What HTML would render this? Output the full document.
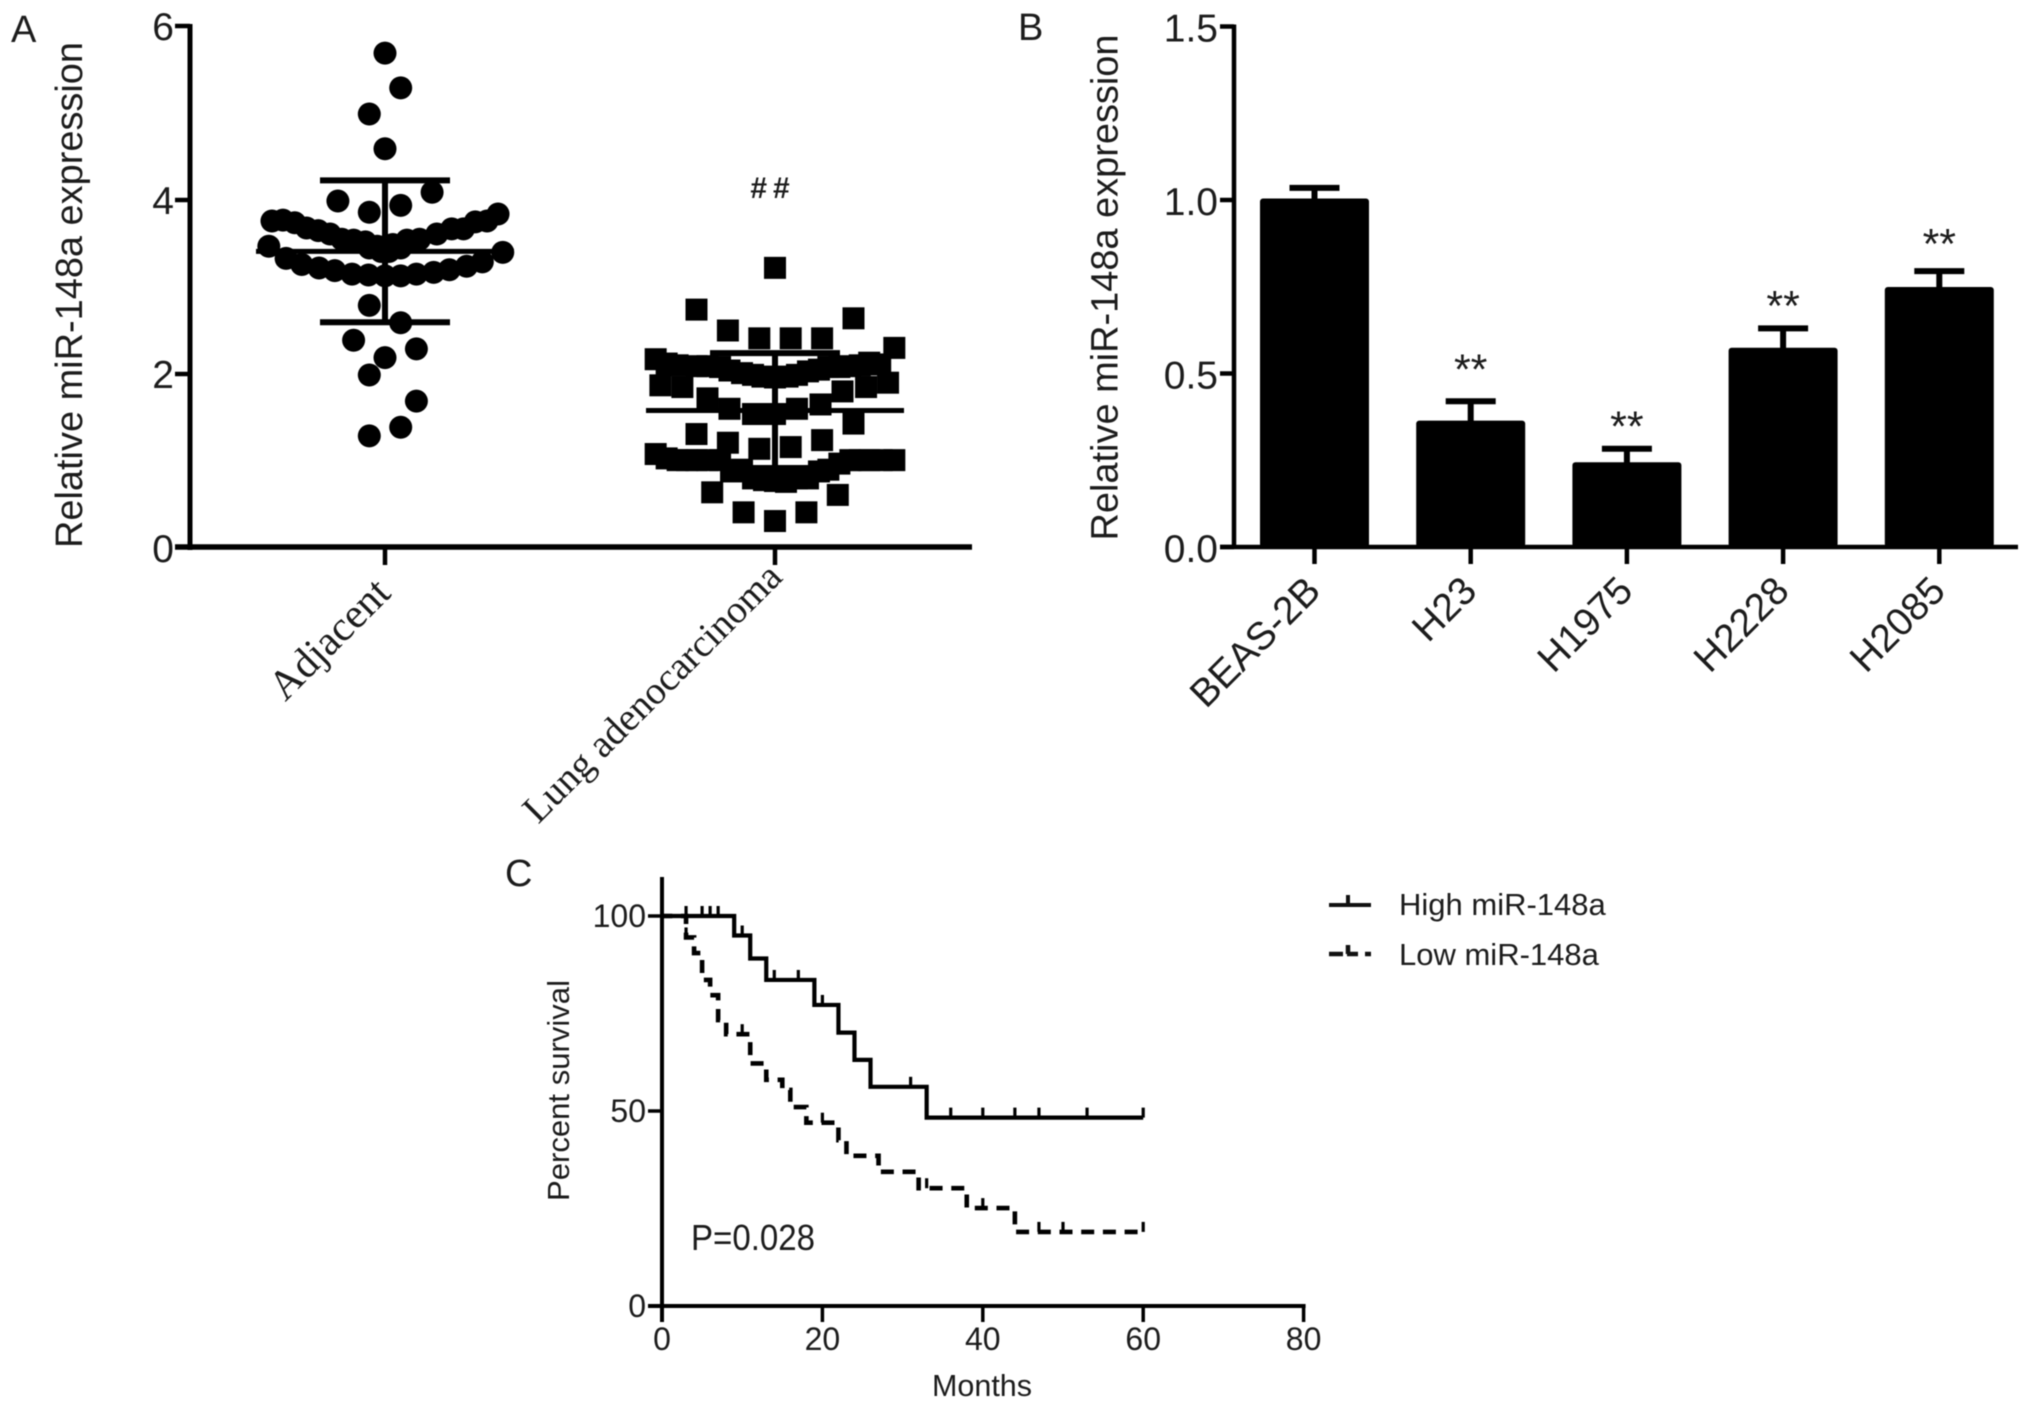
<!DOCTYPE html>
<html>
<head>
<meta charset="utf-8">
<title>miR-148a expression figure</title>
<style>
html,body{margin:0;padding:0;background:#fff;}
svg{display:block;filter:blur(0.6px);}
text{font-family:"Liberation Sans",Arial,sans-serif;fill:#1c1c1c;}
.serif{font-family:"Liberation Serif","Times New Roman",serif;}
</style>
</head>
<body>
<svg id="chart" xmlns="http://www.w3.org/2000/svg" width="2031" height="1409" viewBox="0 0 2031 1409">
  <rect width="2031" height="1409" fill="#fff"/>
  <text x="11" y="42" font-size="38">A</text>
  <text x="1018" y="40" font-size="38">B</text>
  <text x="505" y="886" font-size="38">C</text>
  <text transform="translate(82,548) rotate(-90)" font-size="38" textLength="506" lengthAdjust="spacingAndGlyphs">Relative miR-148a expression</text>
  <text transform="translate(1117.5,540.5) rotate(-90)" font-size="38" textLength="506" lengthAdjust="spacingAndGlyphs">Relative miR-148a expression</text>
  <text x="773" y="198" font-size="30" font-weight="bold" text-anchor="middle" letter-spacing="6">##</text>
  <text transform="translate(569,1201) rotate(-90)" font-size="30.5" textLength="221" lengthAdjust="spacingAndGlyphs">Percent survival</text>
  <text x="982" y="1396" font-size="30.5" text-anchor="middle">Months</text>
  <text x="691" y="1250" font-size="36" textLength="124" lengthAdjust="spacingAndGlyphs">P=0.028</text>
  <text x="1399" y="915" font-size="31">High miR-148a</text>
  <text x="1399" y="965" font-size="31">Low miR-148a</text>
  <path d="M1329 905H1371M1348 905V895" stroke="#111" stroke-width="4" fill="none"/>
  <path d="M1329 954H1343M1347 954H1358M1348 954V945M1365 954H1371" stroke="#111" stroke-width="4.5" fill="none"/>
</svg>
<script>
/* ---------- Panel A data ---------- */
const groupNamesA = ['Adjacent', 'Lung adenocarcinoma'];
const ticksA = [0, 2, 4, 6];
const adjacentSlots = [0, 1, -1, 0, 3, -3, 1, -1,
  -7.2, -6.5, -5.75, -5, -4.25, -3.5, -2.75, -2, -1.25, -0.5, 0.5, 1.4, 2.2, 3.3, 4.25, 5, 5.75, 6.5, 7.2,
  -1, -0.25, 0.25, 1,
  -7.4, 7.5, -6.3, -5.3, -4.2, -3.2, -2.1, -1.05, 0, 1, 2, 3.1, 4.1, 5.2, 6.2,
  -1, 1, -2, 2, 0, -1, 2, 1, -1];
const adjacentValues = [5.7, 5.3, 5.0, 4.6, 4.1, 4.0, 3.95, 3.87,
  3.77, 3.78, 3.75, 3.69, 3.66, 3.62, 3.56, 3.55, 3.53, 3.48, 3.5, 3.55, 3.56, 3.62, 3.68, 3.68, 3.76, 3.77, 3.85,
  3.46, 3.42, 3.42, 3.46,
  3.48, 3.41, 3.34, 3.27, 3.23, 3.2, 3.16, 3.15, 3.14, 3.14, 3.16, 3.18, 3.21, 3.25, 3.3,
  2.8, 2.6, 2.4, 2.3, 2.2, 2.0, 1.7, 1.4, 1.3];
const tumorSlots = [0, -5, 5, -3, -1, 1, 3, 7.6,
  -7.6, -6.2, -5, -3.5, -2.1, -0.8, 0, 0.8, 2.1, 3.4, 4.8, 6,
  -6.9, -4.3, -2.9, -1.4, 1.4, 2.8, 4.1, 5.4, 6.7,
  -7.3, -5.9, -4.3, -2.9, -1.4, 0, 1.4, 2.9, 4.3, 5.8, 7.2,
  5, -5, -3, 3, 1, -1,
  -7.6, -6.2, -5, -3.5, -2.1, -0.7, 0.7, 2.1, 3.4, 4.8, 6, 7.6,
  -6.9, -5.6, -4.3, -2.8, -1.4, 0, 1.4, 2.8, 4.1, 5.4, 6.8,
  -4, 4, -2, 2, 0];
const tumorValues = [3.22, 2.74, 2.64, 2.5, 2.41, 2.41, 2.41, 2.3,
  2.17, 2.1, 2.09, 2.08, 2.01, 1.97, 1.96, 1.97, 2.03, 2.08, 2.09, 2.13,
  2.12, 2.09, 2.04, 1.99, 1.99, 2.05, 2.08, 2.1, 2.11,
  1.87, 1.85, 1.72, 1.6, 1.54, 1.54, 1.6, 1.65, 1.8, 1.85, 1.9,
  1.43, 1.31, 1.21, 1.24, 1.16, 1.14,
  1.08, 1.01, 1.01, 1.01, 0.9, 0.78, 0.76, 0.8, 0.9, 1.01, 1.01, 1.01,
  1.03, 1.01, 1.01, 0.88, 0.8, 0.77, 0.8, 0.88, 0.97, 1.01, 1.01,
  0.64, 0.61, 0.41, 0.41, 0.31];
const meansA = [3.41, 1.58];
const sdsA = [0.815, 0.66];

/* ---------- Panel B data ---------- */
const cellLines = ['BEAS-2B', 'H23', 'H1975', 'H2228', 'H2085'];
const expressionB = [1.0, 0.36, 0.24, 0.57, 0.745];
const errorsB = [0.035, 0.06, 0.043, 0.06, 0.05];
const ticksB = ['0.0', '0.5', '1.0', '1.5'];
const starLabels = ['', '**', '**', '**', '**'];
const starLevels = [0, 0.522, 0.358, 0.705, 0.884];

/* ---------- Panel C data ---------- */
const ticksCx = [0, 20, 40, 60, 80];
const ticksCy = [0, 50, 100];
const highTimes = [0, 9, 11, 13, 19, 22, 24, 26, 33];
const highSurvival = [100, 95, 89.1, 83.6, 77.2, 70.1, 63.1, 56.2, 48.3];
const highCensor = [3, 5, 6, 7, 10, 14, 17, 20, 31, 36, 40, 44, 47, 53, 60];
const lowTimes = [0, 3, 4, 5, 6, 7, 8, 11, 13, 15, 16, 18, 22, 23, 27, 32, 38, 44];
const lowSurvival = [100, 94.5, 90.5, 83.6, 79.7, 73.3, 69.7, 62.2, 58, 55.4, 51, 47, 42.5, 38.5, 34.4, 30.2, 25.1, 19];
const lowCensor = [3, 10, 20, 33, 40, 47, 50, 60];
const endTime = 60;

const NS = 'http://www.w3.org/2000/svg';
const chart = document.getElementById('chart');
function make(tag, attrs, text) {
  const el = document.createElementNS(NS, tag);
  for (const k in attrs) el.setAttribute(k, attrs[k]);
  if (text !== undefined) el.textContent = text;
  chart.appendChild(el);
  return el;
}
const INK = '#000';

/* axis functions */
const yA = v => 548 - 87 * v;
const xA = (g, slot) => 385 + 390 * g + 15.7 * slot;
const yB = v => 547 - 347 * v;
const xB = i => 1314.5 + 156.2 * i;
const yC = s => 1306 - 3.9 * s;
const xC = t => 662 + 8.02 * t;

/* ---------- Panel A ---------- */
adjacentValues.forEach((v, i) => {
  const dot = make('circle', {cx: xA(0, adjacentSlots[i]), cy: yA(v) + 1, r: 11.5, fill: INK});
  
  
});
tumorValues.forEach((v, i) => {
  const sq = make('rect', {x: xA(1, tumorSlots[i]) - 11, y: yA(v) - 11, width: 22, height: 22, fill: INK});
  
  
});
meansA.forEach((m, g) => {
  const cx = xA(g, 0);
  const top = yA(m + sdsA[g]);
  const bot = yA(m - sdsA[g]);
  const d = 'M' + (cx - 65) + ' ' + top + 'H' + (cx + 65) +
            'M' + (cx - 65) + ' ' + bot + 'H' + (cx + 65) +
            'M' + cx + ' ' + top + 'V' + bot;
  const err = make('path', {d: d, stroke: INK, 'stroke-width': 6, fill: 'none'});
  
  
  const mean = make('line', {x1: cx - 129, x2: cx + 129, y1: yA(m), y2: yA(m), stroke: INK, 'stroke-width': 5});
  
  
});
const axisAy = make('line', {x1: 190, x2: 190, y1: yA(6) - 2, y2: yA(0) + 2, stroke: INK, 'stroke-width': 5});


const axisAx = make('line', {x1: 175, x2: 972, y1: yA(0) - 1, y2: yA(0) - 1, stroke: INK, 'stroke-width': 5.5});


ticksA.forEach(t => {
  const tk = make('line', {x1: 175, x2: 190, y1: yA(t) - (t === 0 ? 1 : 0), y2: yA(t) - (t === 0 ? 1 : 0), stroke: INK, 'stroke-width': 4.5});
  
  
  const lb = make('text', {x: 174, y: yA(t) + 14, 'font-size': 39, 'text-anchor': 'end'}, String(t));
  
  
});
groupNamesA.forEach((name, g) => {
  const tk = make('line', {x1: xA(g, 0), x2: xA(g, 0), y1: 547, y2: 565, stroke: INK, 'stroke-width': 4.5});
  
  
  const lx = xA(g, 0) + (g === 0 ? 7.5 : 9);
  const ly = g === 0 ? 595 : 579;
  const lb = make('text', {transform: 'translate(' + lx + ',' + ly + ') rotate(-45)', 'font-size': g === 0 ? 42 : 39, 'text-anchor': 'end', class: 'serif'}, name);
  
  
});

/* ---------- Panel B ---------- */
expressionB.forEach((v, i) => {
  const err = make('path', {d: 'M' + xB(i) + ' ' + yB(v) + 'V' + yB(v + errorsB[i]) + 'M' + (xB(i) - 25) + ' ' + yB(v + errorsB[i]) + 'H' + (xB(i) + 25), stroke: INK, 'stroke-width': 6, fill: 'none'});
  
  
  const bar = make('rect', {x: xB(i) - 54.5, y: yB(v) - 1.5, width: 109, height: yB(0) - yB(v) + 1.5, rx: 3, fill: INK});
  
  
  if (starLabels[i]) {
    const st = make('text', {x: xB(i), y: yB(starLevels[i]) + 18, 'font-size': 43, 'text-anchor': 'middle'}, starLabels[i]);
    
    
  }
  const tk = make('line', {x1: xB(i), x2: xB(i), y1: 547, y2: 564, stroke: INK, 'stroke-width': 4.5});
  
  
  const lb = make('text', {transform: 'translate(' + (xB(i) + 8) + ',593) rotate(-45)', 'font-size': 39, 'text-anchor': 'end'}, cellLines[i]);
  
  
});
const axisBy = make('line', {x1: 1234, x2: 1234, y1: yB(1.5) - 2, y2: yB(0) + 2, stroke: INK, 'stroke-width': 4.5});


const axisBx = make('line', {x1: 1220, x2: 2018, y1: yB(0), y2: yB(0), stroke: INK, 'stroke-width': 4.5});


ticksB.forEach(t => {
  const tk = make('line', {x1: 1220, x2: 1234, y1: yB(+t), y2: yB(+t), stroke: INK, 'stroke-width': 4.5});
  
  
  const lb = make('text', {x: 1218, y: yB(+t) + 15, 'font-size': 39, 'text-anchor': 'end'}, t);
  
  
});

/* ---------- Panel C ---------- */
function stepPath(times, surv) {
  let d = 'M' + xC(times[0]) + ' ' + yC(surv[0]);
  for (let i = 1; i < times.length; i++) d += 'H' + xC(times[i]) + 'V' + yC(surv[i]);
  return d + 'H' + xC(endTime);
}
function survivalAt(times, surv, t) {
  let s = surv[0];
  times.forEach((tt, i) => { if (tt <= t) s = surv[i]; });
  return s;
}
const highCurve = make('path', {d: stepPath(highTimes, highSurvival), fill: 'none', stroke: INK, 'stroke-width': 4.2});


const lowCurve = make('path', {d: stepPath(lowTimes, lowSurvival), fill: 'none', stroke: INK, 'stroke-width': 4.6, 'stroke-dasharray': '13 8.7', 'stroke-dashoffset': -19});


highCensor.forEach(t => {
  const y = yC(survivalAt(highTimes, highSurvival, t));
  const m = make('line', {x1: xC(t), x2: xC(t), y1: y, y2: y - 10, stroke: INK, 'stroke-width': 3.2});
  
  
});
lowCensor.forEach(t => {
  const y = yC(survivalAt(lowTimes, lowSurvival, t));
  const m = make('line', {x1: xC(t), x2: xC(t), y1: y, y2: y - 10, stroke: INK, 'stroke-width': 3.2});
  
  
});
const axisCy = make('line', {x1: xC(0), x2: xC(0), y1: 877, y2: yC(0) + 16, stroke: INK, 'stroke-width': 4});


const axisCx = make('line', {x1: 648, x2: xC(80) + 2, y1: yC(0), y2: yC(0), stroke: INK, 'stroke-width': 4});


ticksCy.forEach(t => {
  const tk = make('line', {x1: 648, x2: xC(0), y1: yC(t), y2: yC(t), stroke: INK, 'stroke-width': 3.5});
  
  
  const lb = make('text', {x: 646, y: yC(t) + 11, 'font-size': 32, 'text-anchor': 'end'}, String(t));
  
  
});
ticksCx.forEach(t => {
  const tk = make('line', {x1: xC(t), x2: xC(t), y1: yC(0), y2: yC(0) + 16, stroke: INK, 'stroke-width': 3.5});
  
  
  const lb = make('text', {x: xC(t), y: 1350, 'font-size': 32, 'text-anchor': 'middle'}, String(t));
  
  
});
</script>
</body>
</html>
